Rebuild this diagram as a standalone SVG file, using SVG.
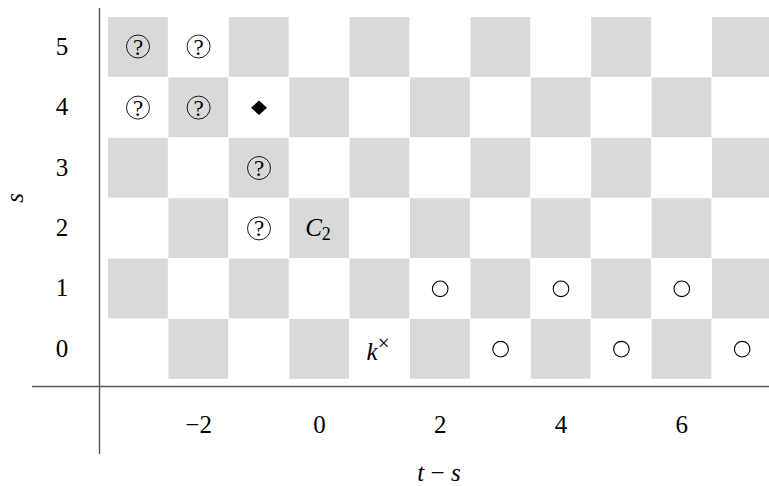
<svg xmlns="http://www.w3.org/2000/svg" width="769" height="486" viewBox="0 0 769 486">
<style>
.g{fill:#d9d9d9}
.t{font-family:"Liberation Serif","DejaVu Serif",serif;font-size:25px;fill:#000;text-anchor:middle}
.i{font-style:italic}
.q{fill:none;stroke:#000;stroke-width:0.9}
.o{fill:none;stroke:#000;stroke-width:1.1}
.ax{stroke:#555;stroke-width:1.4;fill:none}
</style>
<defs>
<g id="qm"><circle class="q" r="11.5"/><text class="t" y="8" style="font-size:23px">?</text></g>
<circle id="oc" class="o" r="7.8"/>
</defs>
<rect width="769" height="486" fill="#fff"/>
<g id="cells">
<rect class="g" x="108" y="17" width="59.8" height="59.8"/>
<rect class="g" x="228.8" y="17" width="59.8" height="59.8"/>
<rect class="g" x="349.6" y="17" width="59.8" height="59.8"/>
<rect class="g" x="470.4" y="17" width="59.8" height="59.8"/>
<rect class="g" x="591.2" y="17" width="59.8" height="59.8"/>
<rect class="g" x="712" y="17" width="59.8" height="59.8"/>
<rect class="g" x="168.4" y="77.4" width="59.8" height="59.8"/>
<rect class="g" x="289.2" y="77.4" width="59.8" height="59.8"/>
<rect class="g" x="410" y="77.4" width="59.8" height="59.8"/>
<rect class="g" x="530.8" y="77.4" width="59.8" height="59.8"/>
<rect class="g" x="651.6" y="77.4" width="59.8" height="59.8"/>
<rect class="g" x="108" y="137.8" width="59.8" height="59.8"/>
<rect class="g" x="228.8" y="137.8" width="59.8" height="59.8"/>
<rect class="g" x="349.6" y="137.8" width="59.8" height="59.8"/>
<rect class="g" x="470.4" y="137.8" width="59.8" height="59.8"/>
<rect class="g" x="591.2" y="137.8" width="59.8" height="59.8"/>
<rect class="g" x="712" y="137.8" width="59.8" height="59.8"/>
<rect class="g" x="168.4" y="198.2" width="59.8" height="59.8"/>
<rect class="g" x="289.2" y="198.2" width="59.8" height="59.8"/>
<rect class="g" x="410" y="198.2" width="59.8" height="59.8"/>
<rect class="g" x="530.8" y="198.2" width="59.8" height="59.8"/>
<rect class="g" x="651.6" y="198.2" width="59.8" height="59.8"/>
<rect class="g" x="108" y="258.6" width="59.8" height="59.8"/>
<rect class="g" x="228.8" y="258.6" width="59.8" height="59.8"/>
<rect class="g" x="349.6" y="258.6" width="59.8" height="59.8"/>
<rect class="g" x="470.4" y="258.6" width="59.8" height="59.8"/>
<rect class="g" x="591.2" y="258.6" width="59.8" height="59.8"/>
<rect class="g" x="712" y="258.6" width="59.8" height="59.8"/>
<rect class="g" x="168.4" y="319" width="59.8" height="59.8"/>
<rect class="g" x="289.2" y="319" width="59.8" height="59.8"/>
<rect class="g" x="410" y="319" width="59.8" height="59.8"/>
<rect class="g" x="530.8" y="319" width="59.8" height="59.8"/>
<rect class="g" x="651.6" y="319" width="59.8" height="59.8"/>
</g>
<g id="axes">
<line class="ax" x1="32" y1="386.5" x2="769" y2="386.5"/>
<line class="ax" x1="99.5" y1="8" x2="99.5" y2="454"/>
</g>
<g id="labels">
<text class="t" x="62" y="54.5">5</text>
<text class="t" x="62" y="115">4</text>
<text class="t" x="62" y="175.5">3</text>
<text class="t" x="62" y="236">2</text>
<text class="t" x="62" y="296">1</text>
<text class="t" x="62" y="356.5">0</text>
<text class="t" x="198.6" y="433">−2</text>
<text class="t" x="319.4" y="433">0</text>
<text class="t" x="440.2" y="433">2</text>
<text class="t" x="561" y="433">4</text>
<text class="t" x="681.8" y="433">6</text>
<text class="t i" transform="translate(23,198) rotate(-90)">s</text>
<text class="t" x="439" y="481"><tspan class="i">t</tspan> − <tspan class="i">s</tspan></text>
</g>
<g id="marks">
<use href="#qm" x="138" y="46.5"/>
<use href="#qm" x="198.6" y="46.5"/>
<use href="#qm" x="138" y="107.6"/>
<use href="#qm" x="198.6" y="107.6"/>
<polygon points="259,100.5 267,107.8 259,115 251,107.8" fill="#000"/>
<use href="#qm" x="259" y="168"/>
<use href="#qm" x="259" y="228.4"/>
<text class="t" x="318" y="236"><tspan class="i">C</tspan><tspan dy="3.5" style="font-size:18px">2</tspan></text>
<text class="t" x="378" y="360"><tspan class="i">k</tspan><tspan dy="-10" style="font-size:21px">×</tspan></text>
<use href="#oc" x="440.2" y="288.8"/>
<use href="#oc" x="561" y="288.8"/>
<use href="#oc" x="681.8" y="288.8"/>
<use href="#oc" x="500.6" y="349.2"/>
<use href="#oc" x="621.4" y="349.2"/>
<use href="#oc" x="742.2" y="349.2"/>
</g>
</svg>
